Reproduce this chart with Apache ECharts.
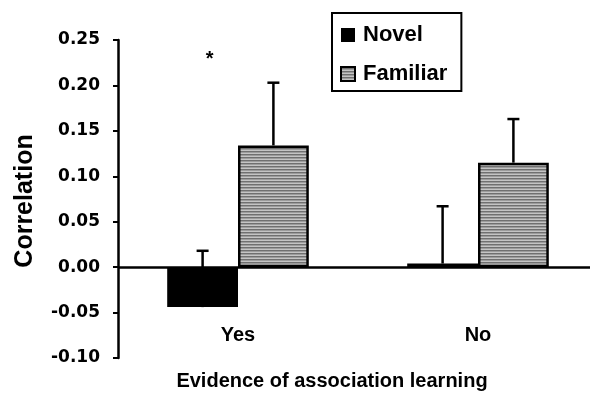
<!DOCTYPE html>
<html>
<head>
<meta charset="utf-8">
<script src="https://cdn.jsdelivr.net/npm/echarts@6/dist/echarts.min.js"></script>
<style>html,body{margin:0;padding:0;background:#fff;}#c{width:590px;height:395px;}</style>
</head>
<body>
<div id="c"></div>
<script>
const categories = ['Yes', 'No'];
const seriesNames = ['Novel', 'Familiar'];
const novel = [-0.044, 0.004];
const familiar = [0.134, 0.115];
const novelErr = [0.062, 0.063];
const familiarErr = [0.069, 0.048];
const yTicks = [-0.10, -0.05, 0.00, 0.05, 0.10, 0.15, 0.20, 0.25];
const significance = [{ category: 'Yes', series: 0, value: 0.229, mark: '*' }];

const FONT = '"Liberation Sans", Arial, sans-serif';
const GAP = 0.41;

// striped fill for "Familiar"
const pc = document.createElement('canvas');
pc.width = 8; pc.height = 3;
const pctx = pc.getContext('2d');
pctx.fillStyle = '#c4c4c4'; pctx.fillRect(0, 0, 8, 1);
pctx.fillStyle = '#707070'; pctx.fillRect(0, 1, 8, 1);
pctx.fillStyle = '#9c9c9c'; pctx.fillRect(0, 2, 8, 1);

const errData = [];
categories.forEach((c, i) => {
  errData.push([i, novel[i], novel[i] + novelErr[i], 0]);
  errData.push([i, familiar[i], familiar[i] + familiarErr[i], 1]);
});
const sigData = significance.map(s => [categories.indexOf(s.category), s.value, s.series, s.mark]);

function barCenter(api, idx, s) {
  const cx = api.coord([idx, 0])[0];
  const band = api.size([1, 0])[0];
  const bw = band * (1 - GAP) / 2;
  return cx + (s === 0 ? -bw / 2 : bw / 2);
}

const chart = echarts.init(document.getElementById('c'), null, { renderer: 'canvas' });
chart.setOption({
  animation: false,
  backgroundColor: '#fff',
  grid: { left: 118, right: -8, top: 40, bottom: 37, containLabel: false, outerBoundsMode: 'none' },
  legend: {
    data: seriesNames,
    icon: 'rect',
    orient: 'vertical',
    left: 332, top: 13,
    padding: [11, 14, 6, 8],
    itemGap: 17,
    itemWidth: 14, itemHeight: 14,
    borderColor: '#000', borderWidth: 2,
    textStyle: { fontFamily: FONT, fontWeight: 'bold', fontSize: 22, color: '#000', padding: [0, 0, 0, 3] }
  },
  xAxis: {
    type: 'category',
    data: categories,
    axisLine: { show: false, onZero: false },
    axisTick: { show: false },
    axisLabel: { margin: -33, fontFamily: FONT, fontWeight: 'bold', fontSize: 20, color: '#000' },
    splitLine: { show: false }
  },
  yAxis: {
    type: 'value',
    min: yTicks[0], max: yTicks[yTicks.length - 1], interval: 0.05,
    axisLine: { show: true, onZero: false, lineStyle: { color: '#000', width: 2.5 } },
    axisTick: { show: true, inside: false, length: 5, lineStyle: { color: '#000', width: 2 } },
    axisLabel: { margin: 18, fontFamily: '"DejaVu Sans", sans-serif', fontWeight: 'bold', fontSize: 17, color: '#000',
      formatter: v => v.toFixed(2) },
    splitLine: { show: false }
  },
  graphic: [
    { type: 'text', rotation: Math.PI / 2, x: 25, y: 201,
      style: { text: 'Correlation', font: 'bold 25px ' + FONT, fill: '#000', textAlign: 'center', textVerticalAlign: 'middle' } },
    { type: 'text', x: 332, y: 381,
      style: { text: 'Evidence of association learning', font: 'bold 20px ' + FONT, fill: '#000', textAlign: 'center', textVerticalAlign: 'middle' } }
  ],
  series: [
    { name: 'Novel', type: 'bar', data: novel, barGap: '0%', barCategoryGap: (GAP * 100) + '%',
      itemStyle: { color: '#000' },
      markLine: { silent: true, symbol: ['none', 'none'], label: { show: false },
        lineStyle: { color: '#000', width: 2.5, type: 'solid' }, data: [{ yAxis: 0 }] } },
    { name: 'Familiar', type: 'bar', data: familiar, barGap: '0%', barCategoryGap: (GAP * 100) + '%',
      itemStyle: { color: { image: pc, repeat: 'repeat' }, borderColor: '#000', borderWidth: 2.5 } },
    { type: 'custom', data: errData, z: 5, silent: true,
      renderItem: function (params, api) {
        const idx = api.value(0), s = api.value(3);
        const x = barCenter(api, idx, s);
        const y0 = api.coord([idx, api.value(1)])[1];
        const y1 = api.coord([idx, api.value(2)])[1];
        return { type: 'group', children: [
          { type: 'line', shape: { x1: x, y1: y0, x2: x, y2: y1 }, style: { stroke: '#000', lineWidth: 2.5 } },
          { type: 'line', shape: { x1: x - 6, y1: y1, x2: x + 6, y2: y1 }, style: { stroke: '#000', lineWidth: 2.5 } }
        ] };
      } },
    { type: 'custom', data: sigData, z: 5, silent: true,
      renderItem: function (params, api) {
        const idx = api.value(0), s = api.value(2);
        const x = barCenter(api, idx, s) + 7;
        const y = api.coord([idx, api.value(1)])[1];
        return { type: 'text', x: x, y: y,
          style: { text: sigData[params.dataIndex][3], font: 'bold 20px ' + FONT, fill: '#000', textAlign: 'center', textVerticalAlign: 'middle' } };
      } }
  ]
});
</script>
</body>
</html>
